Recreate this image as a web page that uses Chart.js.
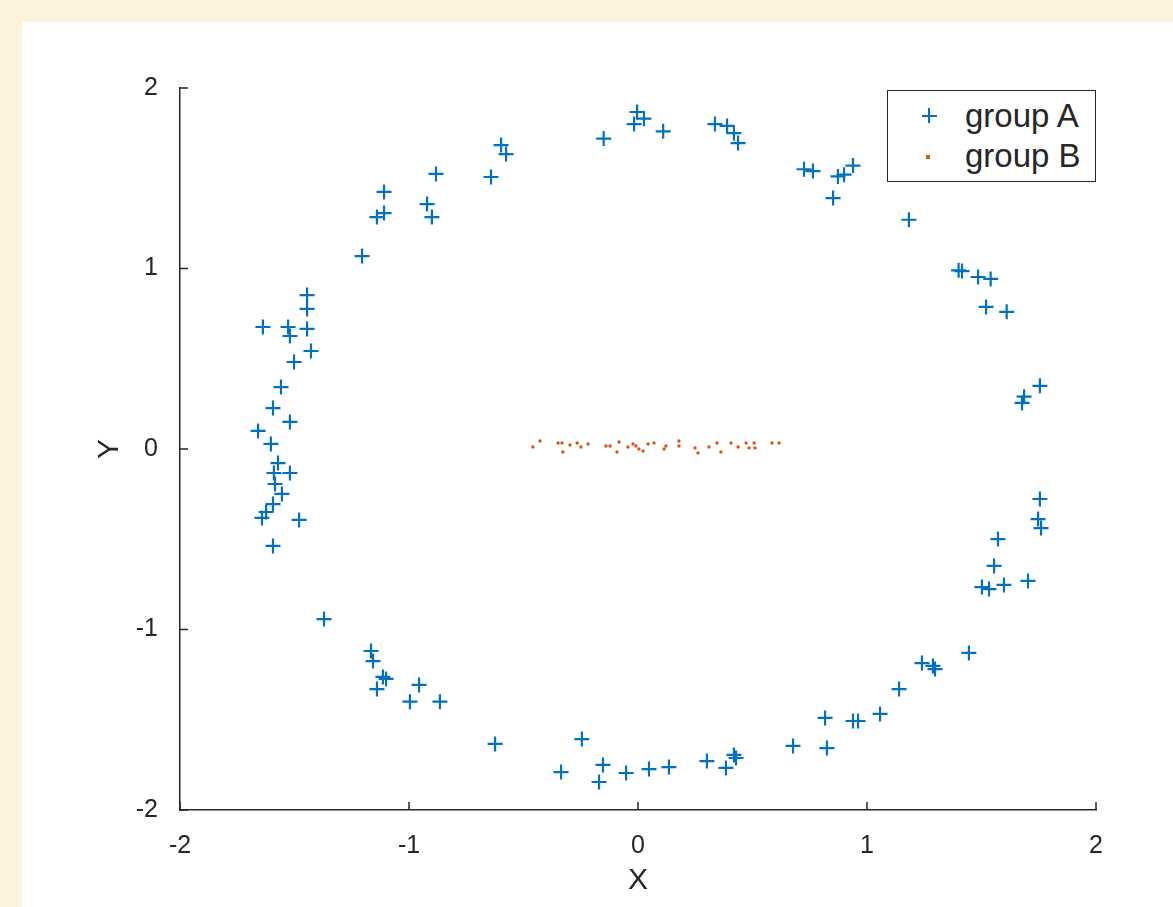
<!DOCTYPE html>
<html>
<head>
<meta charset="utf-8">
<script src="https://cdn.jsdelivr.net/npm/chart.js@4"></script>
<style>
  body { margin: 0; background: #fcf3dc; font-family: "Liberation Sans", Arial, sans-serif; }
  #fig { position: absolute; left: 22px; top: 22px; width: 1151px; height: 885px; background: #ffffff; }
  #grafico { position: absolute; left: 0; top: 0; }
  #legenda { position: absolute; left: 865px; top: 68px; width: 209px; height: 92px;
             border: 1.5px solid #262626; background: #fff; box-sizing: border-box; }
  .item { position: absolute; left: 77px; font-size: 33px; line-height: 33px; color: #262626; white-space: nowrap; }
  .cruz-h { position: absolute; width: 15px; height: 2px; background: #0072bd; }
  .cruz-v { position: absolute; width: 2px; height: 15px; background: #0072bd; }
  .ponto { position: absolute; width: 4px; height: 4px; background: #d95319; }
</style>
</head>
<body>
<div id="fig">
  <canvas id="grafico" width="1151" height="885"></canvas>
  <div id="legenda">
    <div class="cruz-h" style="left:34px; top:24px;"></div>
    <div class="cruz-v" style="left:40px; top:17px;"></div>
    <div class="item" style="top:8px;">group A</div>
    <div class="ponto" style="left:38px; top:64px;"></div>
    <div class="item" style="top:48px;">group B</div>
  </div>
</div>
<script>
// grupo A: anel de pontos
const grupoAX = [
  -0.004, 0.026, -0.017, 0.11, -0.15, 0.336, 0.389, 0.419, 0.437,
  -0.598, -0.576, -0.642, -0.882, -0.921, -0.900, -1.109, -1.109, -1.14, -1.205,
  -1.445, -1.445, -1.638, -1.528, -1.52, -1.445, -1.428, -1.502, -1.559, -1.594,
  -1.52, -1.659, -1.603,
  0.725, 0.764, 0.873, 0.90, 0.939, 0.852, 1.183, 1.415, 1.40, 1.485, 1.54,
  1.52, 1.61, 1.755, 1.686, 1.677,
  -1.572, -1.59, -1.52, -1.585, -1.555, -1.594, -1.624, -1.642, -1.48, -1.594,
  -1.371, -1.166, -1.157, -1.114, -1.10, -1.14, -0.956, -0.996, -0.865, -0.624,
  -0.245, -0.336, -0.153, -0.170, -0.052,
  0.048, 0.135, 0.301, 0.384, 0.419, 0.428, 0.677, 0.817, 0.825, 0.939, 0.961,
  1.057, 1.14, 1.24, 1.288, 1.297, 1.445, 1.502, 1.533, 1.598, 1.703, 1.555,
  1.572, 1.755, 1.747, 1.76
];
const grupoAY = [
  1.867, 1.83, 1.80, 1.76, 1.72, 1.80, 1.79, 1.75, 1.695,
  1.684, 1.634, 1.507, 1.524, 1.357, 1.285, 1.424, 1.307, 1.285, 1.069,
  0.853, 0.776, 0.676, 0.676, 0.626, 0.665, 0.543, 0.482, 0.343, 0.227,
  0.150, 0.100, 0.028,
  1.55, 1.54, 1.51, 1.52, 1.57, 1.39, 1.27, 0.986, 0.99, 0.953, 0.942,
  0.787, 0.76, 0.35, 0.29, 0.255,
  -0.078, -0.133, -0.133, -0.194, -0.249, -0.305, -0.349, -0.382, -0.393, -0.537,
  -0.942, -1.119, -1.175, -1.263, -1.274, -1.33, -1.307, -1.40, -1.40, -1.634,
  -1.607, -1.79, -1.75, -1.845, -1.795,
  -1.773, -1.762, -1.729, -1.767, -1.695, -1.712, -1.645, -1.49, -1.657, -1.507, -1.507,
  -1.468, -1.33, -1.186, -1.202, -1.219, -1.13, -0.765, -0.776, -0.753, -0.731, -0.648,
  -0.499, -0.277, -0.388, -0.438
];

// grupo B: faixa central perto de y = 0
const grupoBX = [
  -0.459, -0.428, -0.349, -0.328, -0.332, -0.297, -0.266, -0.249, -0.218, -0.140,
  -0.122, -0.092, -0.083, -0.044, -0.022, -0.009, 0.004, 0.022, 0.044, 0.070,
  0.114, 0.122, 0.179, 0.179, 0.249, 0.262, 0.310, 0.345, 0.362, 0.406,
  0.437, 0.472, 0.485, 0.507, 0.511, 0.585, 0.616
];
const grupoBY = [
  0.011, 0.044, 0.033, -0.017, 0.033, 0.022, 0.033, 0.011, 0.028, 0.017,
  0.017, -0.017, 0.039, 0.011, 0.028, 0.017, 0.000, -0.011, 0.028, 0.033,
  0.000, 0.017, 0.044, 0.017, 0.006, -0.022, 0.011, 0.033, -0.017, 0.033,
  0.011, 0.033, 0.006, 0.033, 0.006, 0.033, 0.033
];

const ticksEixo = [-2, -1, 0, 1, 2];

const pontosA = grupoAX.map((x, i) => ({ x: x, y: grupoAY[i] }));
const pontosB = grupoBX.map((x, i) => ({ x: x, y: grupoBY[i] }));

const corTexto = '#262626';

// marcas de tick para dentro, como no MATLAB
const ticksParaDentro = {
  id: 'ticksParaDentro',
  afterDraw(chart) {
    const ctx = chart.ctx;
    const area = chart.chartArea;
    const sx = chart.scales.x;
    const sy = chart.scales.y;
    ctx.save();
    ctx.strokeStyle = corTexto;
    ctx.lineWidth = 1.5;
    ctx.beginPath();
    ticksEixo.forEach(v => {
      const px = sx.getPixelForValue(v);
      ctx.moveTo(px, area.bottom);
      ctx.lineTo(px, area.bottom - 8);
      const py = sy.getPixelForValue(v);
      ctx.moveTo(area.left, py);
      ctx.lineTo(area.left + 8, py);
    });
    ctx.stroke();
    ctx.restore();
  }
};

new Chart(document.getElementById('grafico'), {
  type: 'scatter',
  data: {
    datasets: [
      {
        label: 'group A',
        data: pontosA,
        pointStyle: 'cross',
        pointRadius: 7.5,
        borderWidth: 2.2,
        borderColor: '#0072bd',
        backgroundColor: '#0072bd'
      },
      {
        label: 'group B',
        data: pontosB,
        pointStyle: 'circle',
        pointRadius: 1.7,
        borderWidth: 0,
        backgroundColor: '#d95319'
      }
    ]
  },
  options: {
    responsive: false,
    animation: false,
    layout: { padding: { left: 0, top: 66, right: 77, bottom: 0 } },
    plugins: {
      legend: { display: false },
      tooltip: { enabled: false }
    },
    scales: {
      x: {
        type: 'linear',
        min: -2,
        max: 2,
        afterFit: (s) => { s.height = 97; },
        afterBuildTicks: (s) => { s.ticks = ticksEixo.map(v => ({ value: v })); },
        grid: { display: false },
        border: { display: true, color: corTexto, width: 1.5 },
        ticks: { color: corTexto, font: { size: 25, family: 'Liberation Sans' }, padding: 13, maxRotation: 0 },
        title: { display: true, text: 'X', color: corTexto, font: { size: 30, family: 'Liberation Sans' }, padding: { top: 0, bottom: 8 } }
      },
      y: {
        type: 'linear',
        min: -2,
        max: 2,
        afterFit: (s) => { s.width = 158; },
        afterBuildTicks: (s) => { s.ticks = ticksEixo.map(v => ({ value: v })); },
        grid: { display: false },
        border: { display: true, color: corTexto, width: 1.5 },
        ticks: { color: corTexto, font: { size: 25, family: 'Liberation Sans' }, padding: 14 },
        title: { display: true, text: 'Y', color: corTexto, font: { size: 30, family: 'Liberation Sans' }, padding: { top: 70, bottom: 0 } }
      }
    }
  },
  plugins: [ticksParaDentro]
});
</script>
</body>
</html>
